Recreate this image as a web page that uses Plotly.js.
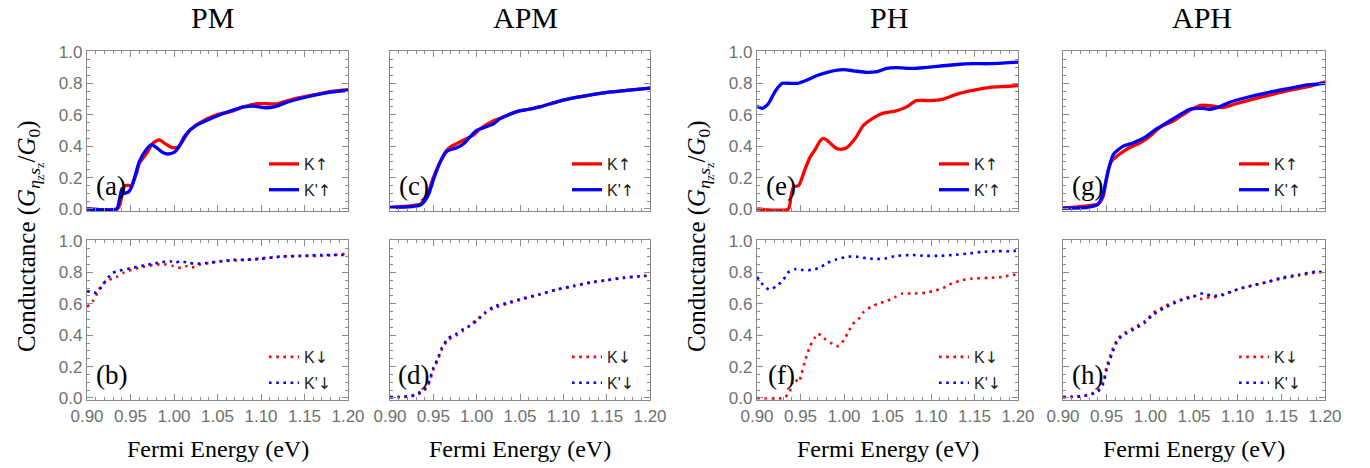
<!DOCTYPE html>
<html><head><meta charset="utf-8">
<script src="https://cdn.plot.ly/plotly-3.0.1.min.js"></script>
<style>html,body{margin:0;padding:0;background:#fff;}#chart{width:1370px;height:468px;}</style>
</head><body><div id="chart"></div>
<script>
// ---------- data (Fermi energy in eV, conductance in units of G0) ----------
const panelTitles = ['PM', 'APM', 'PH', 'APH'];
const panelLabels = ['(a)', '(b)', '(c)', '(d)', '(e)', '(f)', '(g)', '(h)'];
const ARW = (ch) => '<span style="font-family:DejaVu Sans">' + ch + '</span>';
const legendUp = ['K' + ARW('\u2191'), "K'" + ARW('\u2191')];
const legendDown = ['K' + ARW('\u2193'), "K'" + ARW('\u2193')];
const xTickVals = [0.90, 0.95, 1.00, 1.05, 1.10, 1.15, 1.20];
const yTickVals = [0.0, 0.2, 0.4, 0.6, 0.8, 1.0];

// (a) PM spin up
const eF_PM_Kup = [0.900,0.935,0.938,0.941,0.944,0.951,0.957,0.960,0.968,0.976,0.983,0.990,0.998,1.005,1.012,1.018,1.030,1.049,1.065,1.080,1.095,1.107,1.118,1.137,1.164,1.183,1.200];
const G_PM_Kup  = [0,0,0.03,0.12,0.15,0.15,0.23,0.29,0.35,0.42,0.44,0.415,0.39,0.395,0.45,0.50,0.55,0.60,0.62,0.65,0.67,0.67,0.67,0.70,0.73,0.75,0.76];
const eF_PM_Kpup = [0.900,0.934,0.937,0.940,0.943,0.948,0.952,0.960,0.967,0.974,0.980,0.987,0.993,1.000,1.005,1.013,1.025,1.040,1.053,1.068,1.080,1.092,1.103,1.115,1.130,1.150,1.175,1.200];
const G_PM_Kpup  = [0,0,0.05,0.13,0.10,0.11,0.15,0.30,0.37,0.41,0.39,0.36,0.35,0.36,0.39,0.47,0.53,0.57,0.60,0.63,0.65,0.655,0.645,0.65,0.68,0.71,0.74,0.755];
// (b) PM spin down
const eF_PM_Kdn = [0.900,0.907,0.912,0.917,0.924,0.934,0.943,0.953,0.965,0.980,0.991,0.999,1.005,1.010,1.015,1.020,1.030,1.041,1.053,1.068,1.084,1.100,1.120,1.145,1.165,1.183,1.200];
const G_PM_Kdn  = [0.58,0.62,0.67,0.72,0.75,0.77,0.80,0.82,0.835,0.85,0.85,0.84,0.83,0.83,0.84,0.83,0.85,0.86,0.87,0.875,0.88,0.89,0.90,0.905,0.905,0.91,0.92];
const eF_PM_Kpdn = [0.900,0.906,0.911,0.917,0.922,0.929,0.937,0.953,0.966,0.976,0.986,0.996,1.001,1.007,1.017,1.026,1.038,1.053,1.068,1.084,1.100,1.123,1.146,1.170,1.200];
const G_PM_Kpdn  = [0.68,0.675,0.67,0.71,0.75,0.795,0.81,0.83,0.845,0.855,0.865,0.87,0.86,0.87,0.86,0.855,0.86,0.87,0.88,0.88,0.885,0.90,0.905,0.91,0.91];
// (c) APM spin up
const eF_APM_Kup = [0.900,0.923,0.935,0.940,0.944,0.950,0.958,0.965,0.971,0.977,0.988,0.996,1.004,1.019,1.033,1.046,1.060,1.073,1.096,1.115,1.135,1.155,1.173,1.200];
const G_APM_Kup  = [0.01,0.02,0.03,0.06,0.10,0.20,0.30,0.37,0.40,0.415,0.447,0.47,0.51,0.56,0.59,0.62,0.635,0.65,0.687,0.71,0.73,0.745,0.755,0.77];
const eF_APM_Kpup = [0.900,0.925,0.935,0.940,0.945,0.951,0.958,0.965,0.971,0.977,0.985,0.992,1.000,1.019,1.027,1.046,1.060,1.073,1.096,1.115,1.135,1.155,1.173,1.200];
const G_APM_Kpup  = [0.01,0.015,0.025,0.05,0.10,0.20,0.30,0.365,0.38,0.39,0.415,0.457,0.50,0.54,0.575,0.62,0.635,0.65,0.687,0.71,0.73,0.745,0.755,0.77];
// (d) APM spin down
const eF_APM_dn = [0.900,0.910,0.920,0.929,0.938,0.944,0.950,0.955,0.960,0.967,0.977,0.985,0.992,1.000,1.010,1.019,1.035,1.054,1.073,1.092,1.112,1.131,1.150,1.169,1.188,1.200];
const G_APM_Kdn  = [0.005,0.005,0.008,0.015,0.04,0.08,0.18,0.24,0.31,0.37,0.40,0.43,0.46,0.50,0.54,0.57,0.60,0.63,0.66,0.69,0.71,0.735,0.75,0.765,0.775,0.78];
const G_APM_Kpdn = [0.005,0.006,0.01,0.02,0.05,0.09,0.19,0.25,0.32,0.38,0.41,0.44,0.46,0.49,0.545,0.58,0.605,0.635,0.66,0.69,0.715,0.735,0.75,0.765,0.775,0.78];
// (e) PH spin up
const eF_PH_Kup = [0.900,0.936,0.939,0.942,0.948,0.955,0.961,0.967,0.972,0.976,0.980,0.984,0.990,0.996,1.003,1.013,1.022,1.034,1.045,1.060,1.072,1.083,1.099,1.114,1.129,1.148,1.168,1.185,1.200];
const G_PH_Kup  = [0,0,0.08,0.14,0.15,0.25,0.33,0.38,0.43,0.45,0.44,0.42,0.39,0.38,0.39,0.45,0.53,0.58,0.61,0.625,0.65,0.69,0.69,0.70,0.73,0.755,0.775,0.78,0.785];
const eF_PH_Kpup = [0.900,0.906,0.913,0.921,0.929,0.938,0.947,0.957,0.969,0.984,0.999,1.011,1.026,1.038,1.049,1.060,1.080,1.092,1.110,1.130,1.148,1.167,1.185,1.200];
const G_PH_Kpup  = [0.655,0.64,0.67,0.75,0.80,0.80,0.80,0.82,0.85,0.875,0.887,0.88,0.87,0.875,0.895,0.90,0.895,0.90,0.91,0.92,0.925,0.925,0.93,0.935];
// (f) PH spin down
const eF_PH_Kdn = [0.900,0.930,0.937,0.940,0.943,0.948,0.951,0.956,0.961,0.966,0.970,0.977,0.985,0.994,1.000,1.005,1.010,1.018,1.023,1.031,1.039,1.048,1.058,1.067,1.078,1.094,1.102,1.114,1.124,1.136,1.147,1.166,1.181,1.200];
const G_PH_Kdn  = [0,0,0.03,0.09,0.12,0.10,0.15,0.25,0.33,0.38,0.41,0.38,0.35,0.33,0.37,0.42,0.47,0.51,0.55,0.58,0.60,0.615,0.64,0.665,0.665,0.67,0.68,0.70,0.73,0.75,0.76,0.765,0.77,0.79];
const eF_PH_Kpdn = [0.900,0.907,0.914,0.922,0.930,0.936,0.944,0.953,0.963,0.972,0.981,0.990,0.996,1.005,1.014,1.026,1.037,1.049,1.060,1.079,1.094,1.110,1.124,1.143,1.158,1.177,1.192,1.200];
const G_PH_Kpdn  = [0.77,0.72,0.69,0.71,0.75,0.80,0.82,0.815,0.815,0.83,0.86,0.88,0.89,0.90,0.90,0.89,0.885,0.89,0.905,0.91,0.905,0.905,0.91,0.92,0.93,0.935,0.935,0.94];
// (g) APH spin up
const eF_APH_Kup = [0.900,0.927,0.940,0.946,0.950,0.955,0.965,0.976,0.988,0.999,1.011,1.026,1.037,1.049,1.058,1.072,1.083,1.098,1.118,1.140,1.163,1.182,1.200];
const G_APH_Kup  = [0.005,0.02,0.03,0.08,0.20,0.30,0.35,0.39,0.42,0.46,0.52,0.56,0.60,0.64,0.66,0.655,0.645,0.67,0.70,0.73,0.76,0.78,0.81];
const eF_APH_Kpup = [0.900,0.928,0.940,0.946,0.952,0.958,0.969,0.980,0.992,1.007,1.022,1.034,1.045,1.060,1.068,1.079,1.091,1.110,1.133,1.156,1.180,1.200];
const G_APH_Kpup  = [0.005,0.01,0.03,0.10,0.25,0.35,0.40,0.42,0.45,0.51,0.56,0.60,0.635,0.64,0.635,0.65,0.68,0.71,0.74,0.765,0.79,0.80];
// (h) APH spin down
const eF_APH_dn = [0.900,0.910,0.920,0.930,0.940,0.946,0.950,0.956,0.963,0.972,0.982,0.994,1.003,1.015,1.026,1.037,1.049,1.057,1.064,1.072,1.083,1.094,1.105,1.120,1.135,1.150,1.170,1.190,1.200];
const G_APH_Kdn  = [0.005,0.008,0.012,0.02,0.05,0.10,0.20,0.30,0.38,0.42,0.45,0.49,0.54,0.58,0.61,0.63,0.65,0.63,0.64,0.64,0.66,0.68,0.70,0.72,0.74,0.76,0.78,0.80,0.80];
const G_APH_Kpdn = [0.005,0.007,0.01,0.02,0.04,0.09,0.18,0.28,0.37,0.41,0.44,0.48,0.53,0.57,0.60,0.625,0.645,0.665,0.66,0.65,0.655,0.68,0.70,0.72,0.74,0.765,0.785,0.805,0.80];

// ---------- layout helpers ----------
const W = 1370, H = 468;
const colPx = [[87,348],[390,650],[757,1018],[1063,1325]];
const rowPx = [[51,211],[240,400]]; // top row, bottom row
const SERIF = '"Liberation Serif", "Times New Roman", serif';
const SANS = '"Liberation Sans", Arial, sans-serif';
const FRAME = '#8a8a8a';
const RED = '#ff0000', BLUE = '#0000ff';

// panels in order a..h : [col,row,spin,xK,yK,xKp,yKp]
const panels = [
  [0,0,'up',eF_PM_Kup,G_PM_Kup,eF_PM_Kpup,G_PM_Kpup],
  [0,1,'dn',eF_PM_Kdn,G_PM_Kdn,eF_PM_Kpdn,G_PM_Kpdn],
  [1,0,'up',eF_APM_Kup,G_APM_Kup,eF_APM_Kpup,G_APM_Kpup],
  [1,1,'dn',eF_APM_dn,G_APM_Kdn,eF_APM_dn,G_APM_Kpdn],
  [2,0,'up',eF_PH_Kup,G_PH_Kup,eF_PH_Kpup,G_PH_Kpup],
  [2,1,'dn',eF_PH_Kdn,G_PH_Kdn,eF_PH_Kpdn,G_PH_Kpdn],
  [3,0,'up',eF_APH_Kup,G_APH_Kup,eF_APH_Kpup,G_APH_Kpup],
  [3,1,'dn',eF_APH_dn,G_APH_Kdn,eF_APH_dn,G_APH_Kpdn]
];

const traces = [];
const layout = {
  width: W, height: H,
  margin: {l:0, r:0, t:0, b:0},
  paper_bgcolor: '#fff', plot_bgcolor: '#fff',
  showlegend: true,
  annotations: [],
  font: {family: SANS}
};

panels.forEach((p, i) => {
  const [c, r, spin, xK, yK, xKp, yKp] = p;
  const n = i + 1;
  const xa = 'xaxis' + (n === 1 ? '' : n), ya = 'yaxis' + (n === 1 ? '' : n);
  const xr = 'x' + (n === 1 ? '' : n), yr = 'y' + (n === 1 ? '' : n);
  const lg = 'legend' + (n === 1 ? '' : n);
  const dotted = spin === 'dn';
  const names = dotted ? legendDown : legendUp;
  const lineStyle = (col) => dotted
    ? {color: col, width: 2.6, dash: '2.6px,4.6px', shape: 'spline', smoothing: 0.6}
    : {color: col, width: 3.3, shape: 'spline', smoothing: 0.6};
  traces.push({x: xK, y: yK, xaxis: xr, yaxis: yr, type: 'scatter', mode: 'lines',
    name: names[0], line: lineStyle(RED), legend: lg, legendgroup: 'r' + n, hoverinfo: 'skip'});
  traces.push({x: xKp, y: yKp, xaxis: xr, yaxis: yr, type: 'scatter', mode: 'lines',
    name: names[1], line: lineStyle(BLUE), legend: lg, legendgroup: 'b' + n, hoverinfo: 'skip'});

  const [x0, x1] = colPx[c], [y0, y1] = rowPx[r];
  const common = {
    showline: true, mirror: 'allticks', linecolor: FRAME, linewidth: 1.2,
    ticks: 'inside', ticklen: 6, tickwidth: 1, tickcolor: FRAME,
    showgrid: false, zeroline: false, fixedrange: true,
    tickfont: {family: SANS, size: 17, color: '#707070'}
  };
  layout[xa] = Object.assign({}, common, {
    domain: [x0 / W, x1 / W], anchor: yr, range: [0.9, 1.2],
    tickvals: xTickVals, tickformat: '.2f', showticklabels: r === 1,
    minor: {ticks: 'inside', ticklen: 3, dtick: 0.01, tick0: 0.9, tickcolor: FRAME, showgrid: false}
  });
  layout[ya] = Object.assign({}, common, {
    domain: [1 - y1 / H, 1 - y0 / H], anchor: xr, range: [-0.013, 1.006],
    tickvals: yTickVals, tickformat: '.1f', showticklabels: (c === 0 || c === 2),
    minor: {ticks: 'inside', ticklen: 3, dtick: 0.05, tick0: 0, tickcolor: FRAME, showgrid: false}
  });

  // legend inside panel (bottom right)
  const legLeft = x0 + (c === 3 ? 176 : 182) - 5;
  const legTop = y1 - (r === 0 ? 49 : 45) - 15;
  layout[lg] = {
    x: legLeft / W, y: 1 - legTop / H, xanchor: 'left', yanchor: 'top',
    xref: 'paper', yref: 'paper',
    bgcolor: 'rgba(0,0,0,0)', borderwidth: 0, tracegroupgap: 2,
    traceorder: 'grouped', itemwidth: 30,
    font: {family: SANS, size: 16, color: '#222'}
  };

  // panel label
  layout.annotations.push({
    text: panelLabels[i], xref: xr + ' domain', yref: yr + ' domain',
    x: 0.092, y: 0.155, xanchor: 'center', yanchor: 'middle', showarrow: false,
    font: {family: SERIF, size: 27, color: '#000'}
  });

  // x-axis title under bottom panels
  if (r === 1) {
    layout.annotations.push({
      text: 'Fermi Energy (eV)', xref: xr + ' domain', yref: 'paper',
      x: 0.5, y: 1 - 449 / H, xanchor: 'center', yanchor: 'middle', showarrow: false,
      font: {family: SERIF, size: 24, color: '#000'}
    });
  }
});

// column titles
const titleX = [212, 525, 889, 1202];
panelTitles.forEach((t, k) => {
  layout.annotations.push({
    text: t, xref: 'paper', yref: 'paper', x: titleX[k] / W, y: 1 - 18 / H,
    xanchor: 'center', yanchor: 'middle', showarrow: false,
    font: {family: SERIF, size: 30, color: '#000'}
  });
});

// y-axis titles (spanning both rows)
const yTitle = 'Conductance (<i>G</i><sub><i>\u03b7</i><sub>z</sub><i>s</i><sub>z</sub></sub>/<i>G</i><sub>0</sub>)';
[30, 700].forEach(px => {
  layout.annotations.push({
    text: yTitle, xref: 'paper', yref: 'paper', x: px / W, y: 1 - 236 / H,
    xanchor: 'center', yanchor: 'middle', textangle: -90, showarrow: false,
    font: {family: SERIF, size: 25, color: '#000'}
  });
});

Plotly.newPlot('chart', traces, layout, {staticPlot: true, displayModeBar: false});
</script></body></html>
